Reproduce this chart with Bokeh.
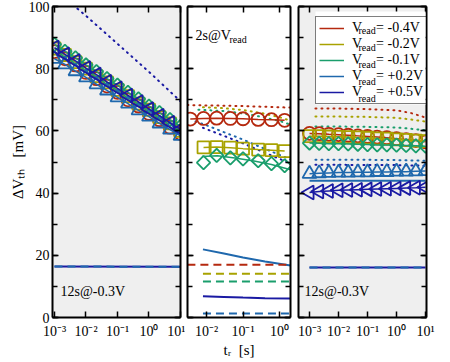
import numpy as np
from bokeh.plotting import figure
from bokeh.layouts import row
from bokeh.models import (Range1d, FixedTicker, SingleIntervalTicker, LinearAxis, LogAxis,
                          CustomJSTickFormatter, Label, Legend, LegendItem, BoxAnnotation)
from bokeh.embed import file_html
from bokeh.resources import INLINE

FONT = "Liberation Serif"
NB = "\u00a0"

# ---------------- colours / series names ----------------
COLORS = ["#b5290f", "#a8a200", "#1a9e6c", "#1f68ad", "#1a1aa3"]
SERIES = ["-0.4V", "-0.2V", "-0.1V", "+0.2V", "+0.5V"]

# ---------------- panel 1: 12s@-0.3V ----------------
t1 = [1e-3, 2.15e-3, 4.64e-3, 1e-2, 2.15e-2, 4.64e-2, 0.1, 0.215, 0.464, 1.0, 2.15, 4.64, 10.0]
p1_m04 = [85.5, 83.2, 81.2, 78.8, 76.8, 74.4, 72.4, 70.0, 68.0, 65.6, 63.6, 61.2, 59.2]
p1_m02 = [86.5, 84.4, 82.1, 80.0, 77.6, 75.6, 73.2, 71.2, 68.8, 66.8, 64.4, 62.4, 60.0]
p1_m01 = [87.8, 85.6, 83.5, 81.2, 79.1, 76.8, 74.7, 72.4, 70.3, 68.0, 65.9, 63.6, 61.5]
p1_p02 = [83.2, 81.4, 79.2, 77.2, 75.0, 73.0, 70.8, 68.8, 66.6, 64.6, 62.4, 60.4, 58.4]
p1_p05 = [86.8, 84.6, 82.5, 80.2, 78.1, 75.8, 73.7, 71.4, 69.3, 67.0, 64.9, 62.6, 60.5]
p1_dot_t = [1e-3, 1e-2, 1e-1, 1.0, 10.0]
p1_dot_p05 = [105.5, 97.0, 88.0, 79.0, 69.5]
p1_base_t = [1e-3, 10.0]
p1_base = [16.4, 16.3]

# ---------------- panel 2: 2s@Vread ----------------
t2 = [0.0036, 0.0083, 0.019, 0.045, 0.10, 0.26, 0.60, 1.38]
p2_m04 = [63.8, 64.0, 64.1, 64.0, 63.9, 63.7, 63.6, 63.4]
t2_sq = [0.0083, 0.019, 0.045, 0.10, 0.26, 0.60, 1.38]
p2_m02 = [54.7, 54.8, 54.6, 54.3, 54.0, 53.8, 53.5]
p2_m01 = [49.8, 52.1, 51.3, 51.0, 50.4, 49.5, 48.8]
p2_fit_t = [0.0075, 0.02, 0.06, 0.2, 0.6, 2.0]
p2_fit_m01 = [51.8, 52.0, 51.3, 50.3, 49.2, 47.5]
p2_dot_m04_t = [0.003, 0.01, 0.03, 0.1, 0.3, 2.0]
p2_dot_m04 = [68.3, 68.2, 68.1, 68.0, 67.8, 67.5]
p2_dot_m02_t = [0.008, 0.03, 0.1, 0.3, 1.0, 2.0]
p2_dot_m02 = [67.6, 67.3, 66.7, 65.8, 64.4, 63.3]
p2_dot_m01_t = [0.006, 0.03, 0.1, 0.3, 1.0, 2.0]
p2_dot_m01 = [66.8, 66.4, 65.6, 64.6, 63.2, 62.0]
p2_dot_p02_t = [0.005, 0.01, 0.03, 0.1, 0.3, 1.0, 2.0]
p2_dot_p02 = [63.0, 61.8, 59.6, 57.2, 54.8, 52.3, 50.8]
p2_dot_p05_t = [0.008, 0.03, 0.1, 0.3, 1.0, 2.0]
p2_dot_p05 = [61.0, 58.4, 56.0, 53.6, 51.0, 49.5]
p2_low_t = [0.008, 0.03, 0.1, 0.4, 2.0]
p2_low_p02 = [21.9, 20.6, 19.3, 18.0, 16.7]
p2_low_p05 = [6.8, 6.6, 6.4, 6.2, 6.1]
p2_dash_m04_t = [0.003, 2.0]
p2_dash_m04 = [17.0, 17.0]
p2_dash_t = [0.008, 2.0]
p2_dash_m02 = [14.1, 14.1]
p2_dash_m01 = [11.6, 11.6]
p2_dash_p02 = [1.3, 1.3]

# ---------------- panel 3: 12s@-0.3V ----------------
t3 = [1e-3, 2.15e-3, 4.64e-3, 1e-2, 2.15e-2, 4.64e-2, 0.1, 0.215, 0.464, 1.0, 2.15, 4.64, 10.0]
p3_m04 = [59.2, 59.1, 58.9, 58.8, 58.6, 58.4, 58.2, 58.0, 57.8, 57.5, 57.2, 56.9, 56.5]
p3_m02 = [58.3, 58.3, 58.2, 58.1, 58.0, 57.9, 57.8, 57.6, 57.5, 57.3, 57.1, 56.9, 56.7]
p3_m01 = [56.1, 56.0, 55.9, 55.9, 55.8, 55.7, 55.6, 55.5, 55.5, 55.4, 55.3, 55.2, 55.1]
p3_p02 = [46.2, 46.4, 46.5, 46.6, 46.6, 46.7, 46.7, 46.8, 46.8, 46.9, 46.9, 47.0, 47.1]
p3_p05 = [40.2, 40.5, 40.7, 40.9, 41.0, 41.1, 41.2, 41.3, 41.4, 41.5, 41.6, 41.7, 41.9]
p3_line_t = [1e-3, 10.0]
p3_line_p02 = [44.0, 44.0]
p3_dot_t = [1.6e-3, 0.01, 0.1, 1.0, 3.0, 10.0]
p3_dot_m04 = [67.2, 67.2, 67.0, 66.6, 65.8, 64.3]
p3_dot_m02 = [64.6, 64.6, 64.5, 64.2, 63.7, 63.0]
p3_dot_m01 = [61.4, 61.4, 61.3, 61.1, 60.7, 60.2]
p3_dot_p02 = [50.7, 50.7, 50.7, 50.6, 50.5, 50.4]
p3_dot_p05 = [49.1, 49.1, 49.0, 49.0, 48.9, 48.8]
p3_base_t = [1e-3, 10.0]
p3_base = [16.1, 16.1]

# tick values and titles
x_ticks_13 = [1e-3, 1e-2, 1e-1, 1.0, 10.0]
x_ticks_2 = [1e-2, 1e-1, 1.0]
Y_TITLE = "\u0394V\u209c\u2095" + NB * 3 + "[mV]"
X_TITLE = "t\u1d63" + NB * 2 + "[s]"

# ---------------- layout ----------------
H = 360
MBT, MBB = 6, 43
GRAY = "#efefef"

SUP_CODE = """
const e = Math.round(Math.log10(tick));
const m = {'-':'\\u207b','0':'\\u2070','1':'\\u00b9','2':'\\u00b2','3':'\\u00b3','4':'\\u2074'};
return '10' + String(e).split('').map(c => m[c]).join('');
"""


def style_axis(ax, ticker, labels, log=False, minor=False):
    ax.ticker = ticker
    ax.axis_line_color = "black"
    ax.axis_line_width = 2
    ax.major_tick_in = 6
    ax.major_tick_out = 0
    ax.minor_tick_in = 5
    ax.minor_tick_out = 0
    ax.major_tick_line_width = 1.5
    ax.minor_tick_line_width = 1.5
    ax.major_tick_line_color = "black"
    ax.minor_tick_line_color = "black" if minor else None
    ax.axis_label_text_font = FONT
    ax.axis_label_text_font_style = "normal"
    ax.axis_label_text_font_size = "15px"
    ax.axis_label_text_color = "black"
    ax.axis_label_standoff = 0
    if labels:
        if log:
            ax.formatter = CustomJSTickFormatter(code=SUP_CODE)
        ax.major_label_text_font = FONT
        ax.major_label_text_font_size = "14px"
        ax.major_label_text_color = "black"
    else:
        ax.formatter = CustomJSTickFormatter(code="return '';")
        ax.major_label_text_font_size = "1px"
        ax.major_label_standoff = 0


def make_fig(xr, bg, width, mbl, mbr, ylabels, xtick_vals):
    p = figure(width=width, height=H, x_axis_type="log", x_range=xr,
               y_range=Range1d(0, 100), output_backend="svg", toolbar_location=None,
               min_border_left=mbl, min_border_right=mbr,
               min_border_top=MBT, min_border_bottom=MBB,
               background_fill_color=bg, border_fill_color="white",
               outline_line_color=None)
    p.grid.visible = False
    yl = p.yaxis[0]
    xb = p.xaxis[0]
    style_axis(yl, SingleIntervalTicker(interval=20, num_minor_ticks=2), ylabels, minor=True)
    yl.major_label_standoff = 3
    style_axis(xb, FixedTicker(ticks=xtick_vals), True, log=True)
    xb.major_label_standoff = 6
    ra = LinearAxis()
    style_axis(ra, SingleIntervalTicker(interval=20, num_minor_ticks=2), False, minor=True)
    p.add_layout(ra, "right")
    ta = LogAxis()
    style_axis(ta, FixedTicker(ticks=xtick_vals), False)
    p.add_layout(ta, "above")
    return p, xb, yl


def label(p, x, y, text, size, units="screen", align="left",
          baseline="alphabetic", xoff=0, yoff=0):
    p.add_layout(Label(x=x, y=y, x_units=units, y_units=units, text=text,
                       text_font=FONT, text_font_size=f"{size}px", text_color="black",
                       text_align=align, text_baseline=baseline,
                       x_offset=xoff, y_offset=yoff))


DOT = dict(line_dash="1 5", line_cap="round", line_width=2)
DASH = dict(line_dash="8 5", line_width=2)
MK = dict(fill_color=None, line_width=1.8)

# ---------------- panel 1 ----------------
p1, p1x, p1y = make_fig(Range1d(10 ** -3.063, 10 ** 1.0), GRAY, 185, 52, 5, True, x_ticks_13)
p1y.axis_label = Y_TITLE
p1.line(p1_dot_t, p1_dot_p05, color=COLORS[4], **DOT)
p1.line(p1_base_t, p1_base, color=COLORS[4], line_width=2)
p1.line(p1_base_t, p1_base, color=COLORS[3], **DASH)
for ys, c, mk, sz, ang in [(p1_m04, COLORS[0], "circle", 13, 0.0),
                           (p1_m02, COLORS[1], "square", 12, 0.0),
                           (p1_m01, COLORS[2], "square", 9.5, np.pi / 4),
                           (p1_p02, COLORS[3], "triangle", 14, 0.0),
                           (p1_p05, COLORS[4], "triangle", 14, np.pi / 2)]:
    p1.line(t1, ys, color=c, line_width=1.5)
    p1.scatter(t1, ys, marker=mk, size=sz, angle=ang, line_color=c, **MK)
label(p1, 10 ** -2.81, 8.2, "12s@-0.3V", 14, units="data")

# ---------------- panel 2 ----------------
p2, p2x, p2y = make_fig(Range1d(10 ** -2.52, 10 ** 0.3), "white", 109, 2, 4, False, x_ticks_2)
p2x.axis_label = X_TITLE
p2.line(p2_dot_m04_t, p2_dot_m04, color=COLORS[0], **DOT)
p2.line(p2_dot_m02_t, p2_dot_m02, color=COLORS[1], **DOT)
p2.line(p2_dot_m01_t, p2_dot_m01, color=COLORS[2], **DOT)
p2.line(p2_dot_p02_t, p2_dot_p02, color=COLORS[3], **DOT)
p2.line(p2_dot_p05_t, p2_dot_p05, color=COLORS[4], **DOT)
p2.line(t2, p2_m04, color=COLORS[0], line_width=1.5)
p2.scatter(t2, p2_m04, marker="circle", size=13, line_color=COLORS[0], **MK)
p2.line(t2_sq, p2_m02, color=COLORS[1], line_width=1.5)
p2.scatter(t2_sq, p2_m02, marker="square", size=12, line_color=COLORS[1], **MK)
p2.line(p2_fit_t, p2_fit_m01, color=COLORS[2], line_width=1.5)
p2.scatter(t2_sq, p2_m01, marker="square", size=9.5, angle=np.pi / 4, line_color=COLORS[2], **MK)
p2.line(p2_low_t, p2_low_p02, color=COLORS[3], line_width=2)
p2.line(p2_low_t, p2_low_p05, color=COLORS[4], line_width=2)
p2.line(p2_dash_m04_t, p2_dash_m04, color=COLORS[0], **DASH)
p2.line(p2_dash_t, p2_dash_m02, color=COLORS[1], **DASH)
p2.line(p2_dash_t, p2_dash_m01, color=COLORS[2], **DASH)
p2.line(p2_dash_t, p2_dash_p02, color=COLORS[3], **DASH)
label(p2, 0.005, 90.8, "2s@V", 14, units="data")
label(p2, 0.005, 90.8, "read", 10, units="data", xoff=34, yoff=-4)

# ---------------- panel 3 ----------------
p3, p3x, p3y = make_fig(Range1d(10 ** -3.38, 10 ** 1.034), GRAY, 152, 4, 20, False, x_ticks_13)
for ys, c in [(p3_dot_m04, COLORS[0]), (p3_dot_m02, COLORS[1]), (p3_dot_m01, COLORS[2]),
              (p3_dot_p02, COLORS[3]), (p3_dot_p05, COLORS[4])]:
    p3.line(p3_dot_t, ys, color=c, **DOT)
p3.line(p3_base_t, p3_base, color=COLORS[4], line_width=2)
p3.line(p3_base_t, p3_base, color=COLORS[3], **DASH)
p3.line(p3_line_t, p3_line_p02, color=COLORS[3], line_width=2)
leg_r = []
for ys, c, mk, sz, ang in [(p3_m04, COLORS[0], "circle", 13, 0.0),
                           (p3_m02, COLORS[1], "square", 12, 0.0),
                           (p3_m01, COLORS[2], "square", 9.5, np.pi / 4),
                           (p3_p02, COLORS[3], "triangle", 14, 0.0),
                           (p3_p05, COLORS[4], "triangle", 14, np.pi / 2)]:
    r = p3.line(t3, ys, color=c, line_width=1.5)
    leg_r.append(r)
    p3.scatter(t3, ys, marker=mk, size=sz, angle=ang, line_color=c, **MK)
label(p3, 10 ** -3.17, 8.2, "12s@-0.3V", 14, units="data")

# legend (kept inside the frame): white box, subscripts, then legend border + text
p3.add_layout(BoxAnnotation(left=17, right=127, bottom=213, top=306,
                            left_units="screen", right_units="screen",
                            bottom_units="screen", top_units="screen",
                            fill_color="white", fill_alpha=1.0,
                            line_color=None))
read_base = [287, 270, 253, 236, 219]
for yb in read_base:
    label(p3, 60, yb, "read", 10)

leg_text = ["V" + NB * 4 + "=" + NB + s for s in SERIES]
legend = Legend(items=[LegendItem(label=t, renderers=[r]) for t, r in zip(leg_text, leg_r)],
                location=(17, 213), orientation="vertical",
                glyph_width=25, glyph_height=16, label_height=16, label_width=68,
                label_standoff=8, padding=3, spacing=0, margin=0,
                border_line_color="black", border_line_width=1,
                background_fill_alpha=0.0,
                label_text_font=FONT, label_text_font_size="14px",
                label_text_color="black")
p3.add_layout(legend)

layout = row(p1, p2, p3)
open("out.html", "w").write(file_html(layout, INLINE))
